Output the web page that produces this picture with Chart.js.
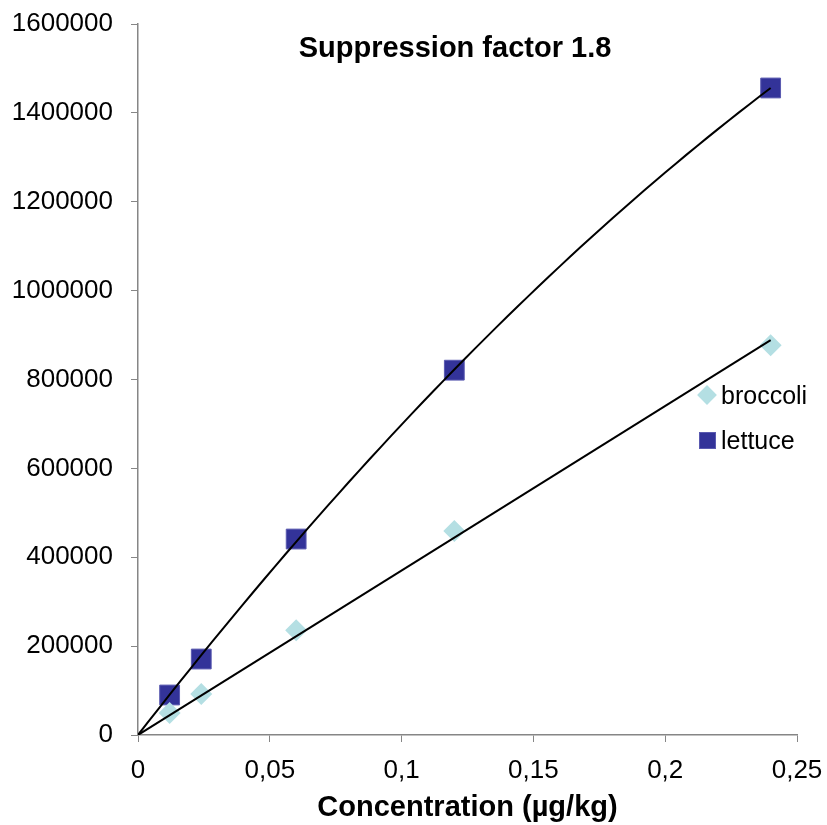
<!DOCTYPE html>
<html>
<head>
<meta charset="utf-8">
<script src="https://cdn.jsdelivr.net/npm/chart.js@4"></script>
<style>
  body { margin: 0; background: #fff; }
  #wrap { position: relative; width: 827px; height: 825px; font-family: "Liberation Sans", Arial, sans-serif; }
  #title { position: absolute; left: 0; width: 910px; top: 30px; text-align: center; font-weight: bold; font-size: 29px; line-height: 34px; color: #000; }
  .legend-item { position: absolute; left: 696px; height: 30px; display: flex; align-items: center; font-size: 25px; color: #000; }
  .swatch { width: 22px; height: 22px; display: flex; align-items: center; justify-content: center; margin-right: 3px; }
  .diamond { width: 14px; height: 14px; background: #b4dfe3; transform: rotate(45deg); }
  .square { width: 17px; height: 17px; background: #333399; box-sizing: border-box; border: 1px solid #5a5ab0; }
</style>
</head>
<body>
<div id="wrap">
  <canvas id="calibChart" width="827" height="825"></canvas>
  <div id="title">Suppression factor 1.8</div>
  <div class="legend-item" style="top:380px"><div class="swatch"><div class="diamond"></div></div>broccoli</div>
  <div class="legend-item" style="top:425px"><div class="swatch"><div class="square"></div></div>lettuce</div>
</div>
<script>
const concentrations = [0.012, 0.024, 0.06, 0.12, 0.24];
const broccoli = [49500, 92000, 236000, 459000, 877000];
const lettuce = [90000, 171000, 441000, 821000, 1456000];
const xTicks = [0, 0.05, 0.1, 0.15, 0.2, 0.25];
const yTicks = [0, 200000, 400000, 600000, 800000, 1000000, 1200000, 1400000, 1600000];

const sum = (arr) => arr.reduce((s, v) => s + v, 0);

// linear fit forced through the origin
function linearFit(xs, ys) {
  const k = sum(xs.map((x, i) => x * ys[i])) / sum(xs.map((x) => x * x));
  return (x) => k * x;
}

// 2nd order polynomial forced through the origin: y = a*x + b*x^2
function quadFit(xs, ys) {
  const s2 = sum(xs.map((x) => x ** 2));
  const s3 = sum(xs.map((x) => x ** 3));
  const s4 = sum(xs.map((x) => x ** 4));
  const sxy = sum(xs.map((x, i) => x * ys[i]));
  const sx2y = sum(xs.map((x, i) => x * x * ys[i]));
  const det = s2 * s4 - s3 * s3;
  const a = (sxy * s4 - s3 * sx2y) / det;
  const b = (s2 * sx2y - s3 * sxy) / det;
  return (x) => a * x + b * x * x;
}

function sampleCurve(fn, xMax, steps) {
  const pts = [];
  for (let i = 0; i <= steps; i++) {
    const x = (xMax * i) / steps;
    pts.push({ x, y: fn(x) });
  }
  return pts;
}

const xMaxData = Math.max(...concentrations);
const broccoliTrend = sampleCurve(linearFit(concentrations, broccoli), xMaxData, 2);
const lettuceTrend = sampleCurve(quadFit(concentrations, lettuce), xMaxData, 60);

const toPoints = (ys) => concentrations.map((x, i) => ({ x, y: ys[i] }));

const axisColor = "#868686";
const tickFont = { family: "'Liberation Sans', Arial, sans-serif", size: 26 };

new Chart(document.getElementById("calibChart").getContext("2d"), {
  type: "scatter",
  data: {
    datasets: [
      {
        label: "broccoli trend",
        type: "line",
        data: broccoliTrend,
        borderColor: "#000",
        borderWidth: 2,
        pointRadius: 0,
        fill: false,
        order: 0,
      },
      {
        label: "lettuce trend",
        type: "line",
        data: lettuceTrend,
        borderColor: "#000",
        borderWidth: 2,
        pointRadius: 0,
        tension: 0,
        fill: false,
        order: 0,
      },
      {
        label: "broccoli",
        data: toPoints(broccoli),
        pointStyle: "rectRot",
        pointRadius: 11,
        backgroundColor: "#b4dfe3",
        borderColor: "#b4dfe3",
        borderWidth: 0,
        order: 1,
      },
      {
        label: "lettuce",
        data: toPoints(lettuce),
        pointStyle: "rect",
        pointRadius: 14,
        backgroundColor: "#333399",
        borderColor: "#5a5ab0",
        borderWidth: 1,
        order: 1,
      },
    ],
  },
  options: {
    responsive: false,
    animation: false,
    layout: { padding: { top: 24, right: 30, left: 0, bottom: 0 } },
    scales: {
      x: {
        type: "linear",
        min: 0,
        max: 0.25,
        afterBuildTicks: (scale) => {
          scale.ticks = xTicks.map((v) => ({ value: v }));
        },
        ticks: {
          color: "#000",
          font: tickFont,
          padding: 13,
          maxRotation: 0,
          callback: (v) => String(v).replace(".", ","),
        },
        grid: { drawOnChartArea: false, color: axisColor, tickLength: 7, tickColor: axisColor },
        border: { color: axisColor, width: 1.5 },
        title: {
          display: true,
          text: "Concentration (µg/kg)",
          color: "#000",
          font: { family: "'Liberation Sans', Arial, sans-serif", size: 29, weight: "bold" },
          padding: { top: 0, bottom: 0 },
        },
        afterFit: (scale) => {
          scale.height = 90;
          scale.paddingLeft = 0;
          scale.paddingRight = 0;
        },
      },
      y: {
        min: 0,
        max: 1600000,
        afterBuildTicks: (scale) => {
          scale.ticks = yTicks.map((v) => ({ value: v }));
        },
        ticks: {
          color: "#000",
          font: tickFont,
          padding: 18,
          callback: (v) => String(v),
        },
        grid: { drawOnChartArea: false, color: axisColor, tickLength: 7, tickColor: axisColor },
        border: { color: axisColor, width: 1.5 },
        afterFit: (scale) => {
          scale.width = 138;
          scale.paddingTop = 0;
          scale.paddingBottom = 0;
        },
      },
    },
    plugins: {
      legend: { display: false },
      tooltip: { enabled: false },
    },
  },
});
</script>
</body>
</html>
